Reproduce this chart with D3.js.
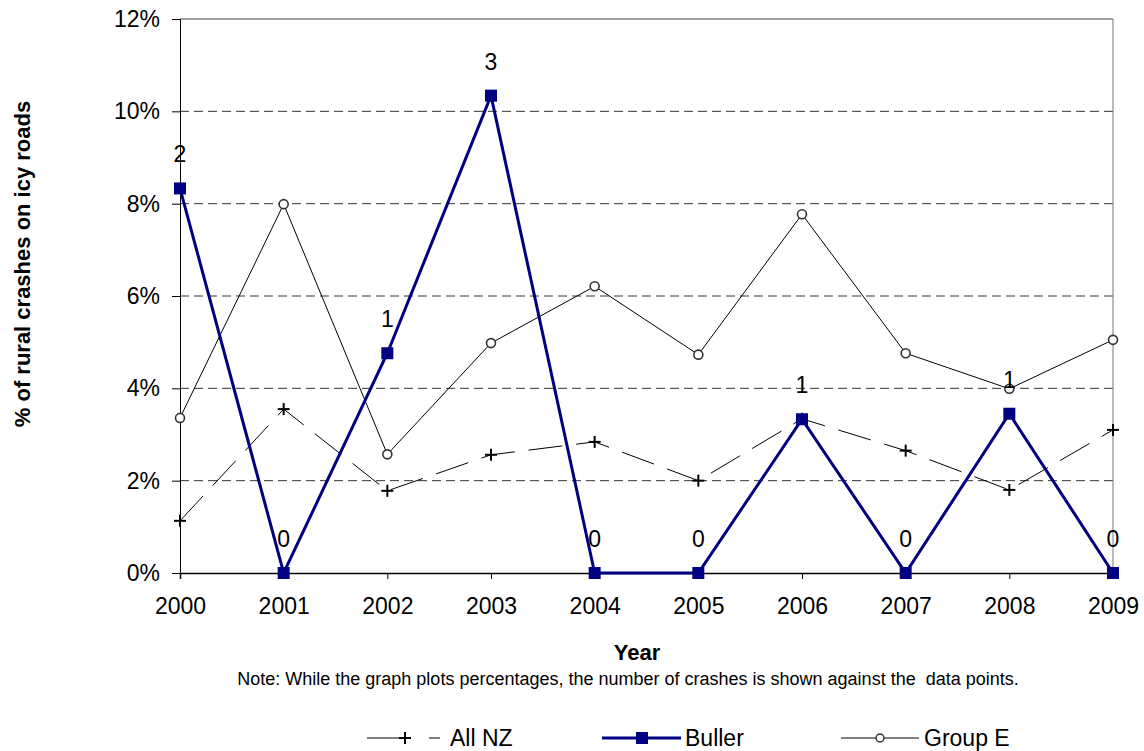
<!DOCTYPE html>
<html>
<head>
<meta charset="utf-8">
<script src="https://cdn.jsdelivr.net/npm/d3@7"></script>
<style>
  body { margin: 0; background: #fff; }
  svg { display: block; font-family: "Liberation Sans", Arial, sans-serif; }
</style>
</head>
<body>
<svg id="chart" width="1144" height="751"></svg>
<script>
const years = [2000, 2001, 2002, 2003, 2004, 2005, 2006, 2007, 2008, 2009];
const allNZ = [1.13, 3.55, 1.78, 2.56, 2.84, 2.00, 3.34, 2.65, 1.80, 3.10];
const buller = [8.33, 0, 4.76, 10.34, 0, 0, 3.33, 0, 3.45, 0];
const groupE = [3.36, 7.99, 2.57, 4.98, 6.21, 4.73, 7.77, 4.76, 3.99, 5.05];
const bullerCounts = [2, 0, 1, 3, 0, 0, 1, 0, 1, 0];
const yTicks = [0, 2, 4, 6, 8, 10, 12];
const yTitle = "% of rural crashes on icy roads";
const xTitle = "Year";
const note = "Note: While the graph plots percentages, the number of crashes is shown against the  data points.";
const seriesNames = ["All NZ", "Buller", "Group E"];

const FF = "Liberation Sans, Arial, sans-serif";
const svg = d3.select("#chart");
const L = 180, R = 1113, T = 19, B = 573;
const x = d3.scalePoint().domain(years).range([L, R]);
const y = d3.scaleLinear().domain([0, 12]).range([B, T]);
const navy = "#000080";

// gridlines
svg.append("g").selectAll("line").data(yTicks.filter(d => d > 0 && d < 12)).join("line")
  .attr("x1", L).attr("x2", R).attr("y1", d => y(d)).attr("y2", d => y(d))
  .attr("stroke", "#333").attr("stroke-width", 1).attr("stroke-dasharray", "9,5");
// frame top/right
svg.append("line").attr("x1", L).attr("x2", R).attr("y1", y(12)).attr("y2", y(12)).attr("stroke", "#444");
svg.append("line").attr("x1", R).attr("x2", R).attr("y1", T).attr("y2", B).attr("stroke", "#777");

// axes
const yAxis = d3.axisLeft(y).tickValues(yTicks).tickSize(8).tickPadding(12).tickFormat(d => d + "%");
const gy = svg.append("g").attr("transform", `translate(${L},0)`).call(yAxis);
gy.select(".domain").attr("stroke", "#000");
gy.selectAll(".tick line").attr("stroke", "#000");
gy.selectAll(".tick text").attr("font-size", 23).attr("fill", "#000").attr("font-family", FF);

const xAxis = d3.axisBottom(x).tickSize(6).tickPadding(19).tickFormat(d3.format("d"));
const gx = svg.append("g").attr("transform", `translate(0,${B})`).call(xAxis);
gx.select(".domain").attr("stroke", "#000").attr("stroke-width", 1.5);
gx.selectAll(".tick line").attr("stroke", "#000");
gx.selectAll(".tick text").attr("font-size", 23).attr("fill", "#000").attr("font-family", FF);

const line = d3.line().x((d, i) => x(years[i])).y(d => y(d));

// All NZ
svg.append("path").datum(allNZ).attr("d", line).attr("fill", "none")
  .attr("stroke", "#000").attr("stroke-width", 1).attr("stroke-dasharray", "34,14");
const plus = (g, cx, cy) => {
  g.append("line").attr("x1", cx - 6).attr("x2", cx + 6).attr("y1", cy).attr("y2", cy).attr("stroke", "#000").attr("stroke-width", 2);
  g.append("line").attr("x1", cx).attr("x2", cx).attr("y1", cy - 6).attr("y2", cy + 6).attr("stroke", "#000").attr("stroke-width", 2);
};
const gPlus = svg.append("g");
allNZ.forEach((v, i) => plus(gPlus, x(years[i]), y(v)));

// Group E
svg.append("path").datum(groupE).attr("d", line).attr("fill", "none")
  .attr("stroke", "#000").attr("stroke-width", 1);
svg.append("g").selectAll("circle").data(groupE).join("circle")
  .attr("cx", (d, i) => x(years[i])).attr("cy", d => y(d)).attr("r", 4.5)
  .attr("fill", "#fff").attr("stroke", "#333").attr("stroke-width", 1.6);

// Buller
svg.append("path").datum(buller).attr("d", line).attr("fill", "none")
  .attr("stroke", navy).attr("stroke-width", 3);
svg.append("g").selectAll("rect").data(buller).join("rect")
  .attr("x", (d, i) => x(years[i]) - 6).attr("y", d => y(d) - 6)
  .attr("width", 12).attr("height", 12).attr("fill", navy);

// count labels
svg.append("g").selectAll("text").data(bullerCounts).join("text")
  .attr("x", (d, i) => x(years[i])).attr("y", (d, i) => y(buller[i]) - 34)
  .attr("text-anchor", "middle").attr("dominant-baseline", "central")
  .attr("font-size", 23).attr("fill", "#000").text(d => d);

// titles
svg.append("text").attr("transform", "translate(22,264) rotate(-90)")
  .attr("text-anchor", "middle").attr("dominant-baseline", "central")
  .attr("font-size", 22).attr("font-weight", "bold").text(yTitle);
svg.append("text").attr("x", 637).attr("y", 652).attr("text-anchor", "middle")
  .attr("dominant-baseline", "central").attr("font-size", 22).attr("font-weight", "bold").text(xTitle);
svg.append("text").attr("x", 628).attr("y", 679).attr("text-anchor", "middle")
  .attr("dominant-baseline", "central").attr("font-size", 18)
  .style("white-space", "pre").text(note);

// legend
const ly = 738;
const lg = svg.append("g");
// All NZ
lg.append("line").attr("x1", 367).attr("x2", 440).attr("y1", ly).attr("y2", ly)
  .attr("stroke", "#000").attr("stroke-width", 1).attr("stroke-dasharray", "34,28");
plus(lg, 405, ly);
lg.append("text").attr("x", 450).attr("y", ly).attr("dominant-baseline", "central").attr("font-size", 23).text(seriesNames[0]);
// Buller
lg.append("line").attr("x1", 602).attr("x2", 681).attr("y1", ly).attr("y2", ly).attr("stroke", navy).attr("stroke-width", 3);
lg.append("rect").attr("x", 636).attr("y", ly - 6).attr("width", 12).attr("height", 12).attr("fill", navy);
lg.append("text").attr("x", 685).attr("y", ly).attr("dominant-baseline", "central").attr("font-size", 23).text(seriesNames[1]);
// Group E
lg.append("line").attr("x1", 841).attr("x2", 919).attr("y1", ly).attr("y2", ly).attr("stroke", "#000").attr("stroke-width", 1);
lg.append("circle").attr("cx", 880).attr("cy", ly).attr("r", 4).attr("fill", "#fff").attr("stroke", "#333").attr("stroke-width", 1.5);
lg.append("text").attr("x", 924).attr("y", ly).attr("dominant-baseline", "central").attr("font-size", 23).text(seriesNames[2]);
</script>
</body>
</html>
